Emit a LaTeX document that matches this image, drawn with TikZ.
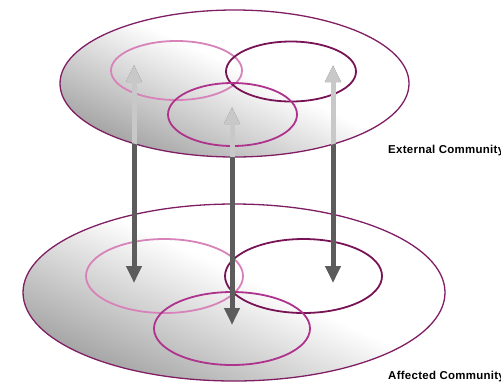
\documentclass[tikz,border=0pt]{standalone}
\usepackage{fontspec}
\newfontfamily\tagfont{Liberation Sans}[LetterSpace=2.5]
\usetikzlibrary{shapes.geometric,arrows.meta}

\pgfdeclarehorizontalshading{discshade}{100bp}{color(0bp)=(black!35); color(25bp)=(black!35); color(54bp)=(white); color(100bp)=(white)}
\definecolor{rimcol}{RGB}{128,30,100}
\definecolor{pinkset}{RGB}{215,130,185}
\definecolor{midset}{RGB}{175,50,140}
\definecolor{darkset}{RGB}{120,20,85}
\definecolor{arrowdark}{RGB}{92,92,92}
\definecolor{arrowlight}{RGB}{200,200,200}

\tikzset{
    commdisc/.style={ellipse, draw=rimcol, line width=1.3bp, inner sep=0pt},
    grp/.style={ellipse, draw=#1, line width=1.8bp, inner sep=0pt},
    flow/.style={line width=5bp, draw=#1, {Triangle[length=17bp,width=15bp]}-{Triangle[length=17bp,width=15bp]}},
    tag/.style={font=\tagfont\bfseries\fontsize{11.5}{12}\selectfont, anchor=base west, inner sep=0pt}
  }

\begin{document}
\begin{tikzpicture}[x=1bp,y=-1bp]
    \useasboundingbox (0,0) rectangle (501,384);

    % affected community
    \begin{scope}
      \clip (234,292.5) ellipse [x radius=211, y radius=88.5];
      \begin{scope}[transform canvas={rotate around={65:(234,292.5)}}]
        \shade[shading=discshade] (114,32.5) rectangle (354,552.5);
      \end{scope}
    \end{scope}
    \node[commdisc, minimum width=422bp, minimum height=177bp] (aff) at (234,292.5) {};
    \node[grp=pinkset, minimum width=157bp, minimum height=74bp] (affL) at (164.5,276) {};
    \node[grp=darkset, minimum width=157bp, minimum height=74bp] (affR) at (303.5,276) {};
    \node[grp=midset, minimum width=156bp, minimum height=73bp] (affM) at (232,328.5) {};

    % external community
    \begin{scope}
      \clip (234.5,83.5) ellipse [x radius=174.5, y radius=73.5];
      \begin{scope}[transform canvas={rotate around={65:(234.5,83.5)}}]
        \shade[shading=discshade] (135,-176.5) rectangle (334,343.5);
      \end{scope}
    \end{scope}
    \node[commdisc, minimum width=349bp, minimum height=147bp] (ext) at (234.5,83.5) {};
    \node[grp=pinkset, minimum width=131bp, minimum height=59bp] (extL) at (176.5,70.5) {};
    \node[grp=darkset, minimum width=130bp, minimum height=60bp] (extR) at (291,71.5) {};
    \node[grp=midset, minimum width=129bp, minimum height=63bp] (extM) at (232.5,114.5) {};

    \coordinate (upL) at (134,65);
    \coordinate (dnL) at (134,283);
    \coordinate (upM) at (232,107);
    \coordinate (dnM) at (232,325);
    \coordinate (upR) at (333,65);
    \coordinate (dnR) at (333,283);

    \foreach \s in {L,M,R}
      \draw[flow=arrowdark] (dn\s) -- (up\s);
    \begin{scope}
      \clip (234.5,83.5) ellipse [x radius=174.5, y radius=73.5];
      \foreach \s in {L,M,R}
        \draw[flow=arrowlight] (dn\s) -- (up\s);
    \end{scope}

    \node[tag] (extname) at (388,153) {External Community};
    \node[tag] (affname) at (388,379.5) {Affected Community};

  \end{tikzpicture}
\end{document}
